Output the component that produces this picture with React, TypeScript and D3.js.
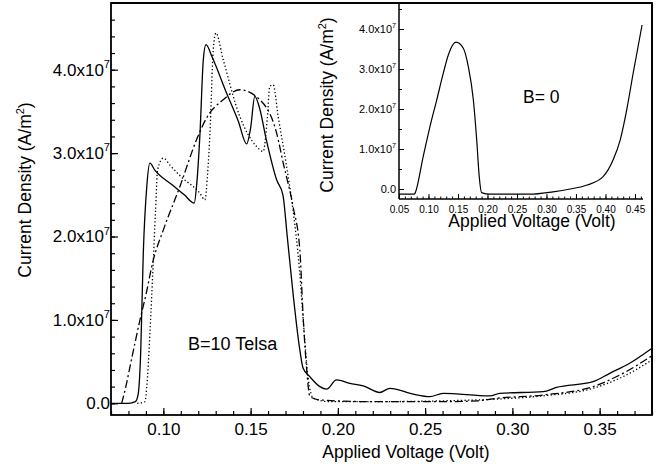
import { useEffect, useRef } from 'react'
import * as d3 from 'd3'

// main plot, B = 10 T (current density in units of 1e7 A/m^2)
const SOLID_V = [0.07, 0.08, 0.084, 0.0855, 0.087, 0.0885, 0.0905, 0.0923, 0.095, 0.105, 0.112, 0.1177, 0.119, 0.121, 0.1229, 0.1244, 0.128, 0.1362, 0.143, 0.1477, 0.15, 0.1524, 0.155, 0.159, 0.1649, 0.1685, 0.171, 0.1744, 0.1782, 0.1801, 0.1839, 0.1897, 0.1935, 0.1992, 0.2069, 0.2145, 0.224, 0.2298, 0.2431, 0.2527, 0.2603, 0.2871, 0.2928, 0.3176, 0.3252, 0.3462, 0.3558, 0.3672, 0.38]
const SOLID_J = [0, 0, 0.02, 0.1, 0.6, 1.8, 2.6, 2.88, 2.8, 2.62, 2.5, 2.4, 2.6, 3.24, 4.12, 4.3, 4.15, 3.72, 3.38, 3.11, 3.3, 3.68, 3.55, 3.16, 2.68, 2.5, 2.0, 1.3, 0.64, 0.42, 0.32, 0.2, 0.17, 0.28, 0.24, 0.21, 0.13, 0.18, 0.11, 0.08, 0.12, 0.09, 0.12, 0.14, 0.19, 0.26, 0.36, 0.48, 0.66]

const DOT_V = [0.085, 0.0895, 0.0905, 0.0923, 0.094, 0.0955, 0.0967, 0.1, 0.104, 0.11, 0.1209, 0.1238, 0.1255, 0.1267, 0.1286, 0.1301, 0.1343, 0.1438, 0.1534, 0.1572, 0.1595, 0.161, 0.1629, 0.1658, 0.1706, 0.1744, 0.178, 0.1805, 0.183, 0.186, 0.195, 0.22, 0.26, 0.29, 0.3176, 0.3462, 0.3634, 0.38]
const DOT_J = [0, 0.02, 0.2, 0.84, 1.6, 2.3, 2.8, 2.94, 2.85, 2.72, 2.52, 2.44, 2.8, 3.24, 4.24, 4.44, 4.12, 3.44, 3.08, 3.02, 3.4, 3.8, 3.82, 3.44, 2.84, 2.3, 1.6, 0.9, 0.3, 0.06, 0.02, 0.02, 0.03, 0.05, 0.09, 0.18, 0.32, 0.52]

const DASH_V = [0.0761, 0.0785, 0.0809, 0.0866, 0.09, 0.094, 0.1, 0.1095, 0.119, 0.1247, 0.1343, 0.1438, 0.1553, 0.1649, 0.1687, 0.1744, 0.1782, 0.1801, 0.182, 0.184, 0.19, 0.22, 0.26, 0.28, 0.291, 0.3176, 0.3462, 0.3634, 0.38]
const DASH_J = [0, 0.2, 0.44, 1.0, 1.3, 1.7, 2.08, 2.6, 3.16, 3.42, 3.64, 3.76, 3.64, 3.24, 2.88, 2.35, 1.84, 1.04, 0.44, 0.08, 0.04, 0.02, 0.02, 0.03, 0.06, 0.1, 0.2, 0.36, 0.57]

// inset, B = 0
const INSET_V = [0.05, 0.076, 0.077, 0.091, 0.1025, 0.114, 0.125, 0.1336, 0.1466, 0.159, 0.1675, 0.176, 0.1817, 0.186, 0.19, 0.204, 0.272, 0.311, 0.34, 0.369, 0.396, 0.413, 0.425, 0.436, 0.447, 0.462]
const INSET_J = [-0.13, -0.13, -0.11, 0.81, 1.56, 2.23, 2.89, 3.35, 3.67, 3.52, 3.06, 2.23, 1.23, 0.31, -0.09, -0.13, -0.13, -0.07, 0.0, 0.1, 0.31, 0.73, 1.23, 1.98, 2.9, 4.1]

const X_TICKS = [0.1, 0.15, 0.2, 0.25, 0.3, 0.35]
const Y_TICKS = [0, 1, 2, 3, 4]
const INSET_X_TICKS = [0.05, 0.1, 0.15, 0.2, 0.25, 0.3, 0.35, 0.4, 0.45]
const INSET_Y_TICKS = [0, 1, 2, 3, 4]

const FONT = '"Liberation Sans", Arial, Helvetica, sans-serif'

type Pt = [number, number]

function addPowLabel(g: any, xPos: number, yPos: number, v: number, size: number) {
  const t = g.append('text')
    .attr('x', xPos).attr('y', yPos)
    .attr('text-anchor', 'end')
    .attr('font-size', size)
    .attr('fill', '#000')
  if (v === 0) {
    t.append('tspan').attr('dy', '0.35em').text('0.0')
    return
  }
  t.append('tspan').attr('dy', '0.35em').text(`${v.toFixed(1)}x10`)
  t.append('tspan').attr('dy', -size * 0.45).attr('font-size', size * 0.65).text('7')
}

export default function App() {
  const svgRef = useRef<SVGSVGElement>(null)

  useEffect(() => {
    if (!svgRef.current) return
    const svg = d3.select(svgRef.current)
    svg.selectAll('*').remove()
    svg.attr('width', 672).attr('height', 472).attr('font-family', FONT)

    svg.append('rect').attr('width', 672).attr('height', 472).attr('fill', '#fff')

    // ---- main plot ----
    const x = d3.scaleLinear().domain([0.07, 0.38]).range([111, 652])
    const y = d3.scaleLinear().domain([-0.14, 4.8]).range([415, 3])

    const line = d3.line<Pt>()
      .x((d) => x(d[0]))
      .y((d) => y(d[1]))
      .curve(d3.curveMonotoneX)

    const series = [
      { v: DASH_V, j: DASH_J, dash: '8,3,2,3' },
      { v: DOT_V, j: DOT_J, dash: '1.3,2.3' },
      { v: SOLID_V, j: SOLID_J, dash: null },
    ]
    series.forEach((s) => {
      const pts = s.v.map((v, i) => [v, s.j[i]] as Pt)
      svg.append('path')
        .attr('d', line(pts))
        .attr('fill', 'none')
        .attr('stroke', '#000')
        .attr('stroke-width', 1.3)
        .attr('stroke-dasharray', s.dash)
    })

    // x axis ticks (inward)
    const xg = svg.append('g').attr('transform', 'translate(0,415)')
    xg.call(d3.axisBottom(x).tickValues(d3.range(0.07, 0.3801, 0.01)).tickSizeInner(-4).tickSizeOuter(0).tickFormat(() => ''))
    xg.select('.domain').remove()
    const xg2 = svg.append('g').attr('transform', 'translate(0,415)')
    xg2.call(d3.axisBottom(x).tickValues(X_TICKS).tickSizeInner(-7).tickSizeOuter(0).tickPadding(8).tickFormat(d3.format('.2f')))
    xg2.select('.domain').remove()
    xg2.selectAll('text').attr('font-size', 17).attr('font-family', FONT).attr('fill', '#000')
    svg.selectAll('.tick line').attr('stroke', '#000').attr('stroke-width', 1.2)

    // y axis ticks (inward)
    const yg = svg.append('g').attr('transform', 'translate(111,0)')
    yg.call(d3.axisLeft(y).tickValues(d3.range(0, 4.61, 0.2)).tickSizeInner(-4).tickSizeOuter(0).tickFormat(() => ''))
    yg.select('.domain').remove()
    const yg2 = svg.append('g').attr('transform', 'translate(111,0)')
    yg2.call(d3.axisLeft(y).tickValues(Y_TICKS).tickSizeInner(-7).tickSizeOuter(0).tickFormat(() => ''))
    yg2.select('.domain').remove()
    yg.selectAll('.tick line').attr('stroke', '#000').attr('stroke-width', 1.2)
    yg2.selectAll('.tick line').attr('stroke', '#000').attr('stroke-width', 1.2)

    Y_TICKS.forEach((v) => addPowLabel(svg, 110, y(v), v, 17))

    // frame
    svg.append('rect')
      .attr('x', 111).attr('y', 3)
      .attr('width', 652 - 111).attr('height', 415 - 3)
      .attr('fill', 'none').attr('stroke', '#000').attr('stroke-width', 1.8)

    // titles
    svg.append('text')
      .attr('x', 406).attr('y', 458)
      .attr('text-anchor', 'middle')
      .attr('font-size', 17.5)
      .text('Applied Voltage (Volt)')

    const yt = svg.append('text')
      .attr('transform', 'translate(31,190) rotate(-90)')
      .attr('text-anchor', 'middle')
      .attr('font-size', 17.5)
    yt.append('tspan').text('Current Density (A/m')
    yt.append('tspan').attr('dy', -7).attr('font-size', 11).text('2')
    yt.append('tspan').attr('dy', 7).text(')')

    svg.append('text')
      .attr('x', 188).attr('y', 350)
      .attr('font-size', 18)
      .text('B=10 Telsa')

    // ---- inset ----
    const xi = d3.scaleLinear().domain([0.05, 0.4636]).range([399, 643])
    const yi = d3.scaleLinear().domain([-0.25, 4.65]).range([199, 3])

    const ig = svg.append('g')
    ig.append('rect')
      .attr('x', 316).attr('y', 4)
      .attr('width', 651 - 316).attr('height', 236)
      .attr('fill', '#fff')

    const iline = d3.line<Pt>()
      .x((d) => xi(d[0]))
      .y((d) => yi(d[1]))
      .curve(d3.curveMonotoneX)
    ig.append('path')
      .attr('d', iline(INSET_V.map((v, i) => [v, INSET_J[i]] as Pt)))
      .attr('fill', 'none')
      .attr('stroke', '#000')
      .attr('stroke-width', 1.2)

    const ixg = ig.append('g').attr('transform', 'translate(0,199)')
    ixg.call(d3.axisBottom(xi).tickValues(d3.range(0.05, 0.4601, 0.01)).tickSizeInner(-2.5).tickSizeOuter(0).tickFormat(() => ''))
    const ixg2 = ig.append('g').attr('transform', 'translate(0,199)')
    ixg2.call(d3.axisBottom(xi).tickValues(INSET_X_TICKS).tickSizeInner(-5).tickSizeOuter(0).tickPadding(6.5).tickFormat(d3.format('.2f')))
    ixg2.selectAll('text').attr('font-size', 10).attr('font-family', FONT).attr('fill', '#000')

    const iyg = ig.append('g').attr('transform', 'translate(399,0)')
    iyg.call(d3.axisLeft(yi).tickValues(d3.range(0, 4.51, 0.5)).tickSizeInner(-3).tickSizeOuter(0).tickFormat(() => ''))
    const iyg2 = ig.append('g').attr('transform', 'translate(399,0)')
    iyg2.call(d3.axisLeft(yi).tickValues(INSET_Y_TICKS).tickSizeInner(-5).tickSizeOuter(0).tickFormat(() => ''))
    ;[ixg, ixg2, iyg, iyg2].forEach((g) => {
      g.select('.domain').remove()
      g.selectAll('.tick line').attr('stroke', '#000').attr('stroke-width', 1)
    })

    ig.append('line')
      .attr('x1', 399).attr('x2', 399).attr('y1', 3).attr('y2', 199)
      .attr('stroke', '#000').attr('stroke-width', 1.5)
    ig.append('line')
      .attr('x1', 399).attr('x2', 643).attr('y1', 199).attr('y2', 199)
      .attr('stroke', '#000').attr('stroke-width', 1.5)

    INSET_Y_TICKS.forEach((v) => addPowLabel(ig, 396, yi(v), v, 11))

    ig.append('text')
      .attr('x', 532).attr('y', 227)
      .attr('text-anchor', 'middle')
      .attr('font-size', 17.5)
      .text('Applied Voltage (Volt)')

    const iyt = ig.append('text')
      .attr('transform', 'translate(333,105) rotate(-90)')
      .attr('text-anchor', 'middle')
      .attr('font-size', 17.5)
    iyt.append('tspan').text('Current Density (A/m')
    iyt.append('tspan').attr('dy', -7).attr('font-size', 11).text('2')
    iyt.append('tspan').attr('dy', 7).text(')')

    ig.append('text')
      .attr('x', 523).attr('y', 103)
      .attr('font-size', 17.5)
      .text('B= 0')

    // redraw main frame right/top edge over inset background
    svg.append('line')
      .attr('x1', 652).attr('x2', 652).attr('y1', 3).attr('y2', 415)
      .attr('stroke', '#000').attr('stroke-width', 1.8)
    svg.append('line')
      .attr('x1', 111).attr('x2', 652).attr('y1', 3).attr('y2', 3)
      .attr('stroke', '#000').attr('stroke-width', 1.8)
  }, [])

  return <svg ref={svgRef} style={{ position: 'absolute', left: 0, top: 0, display: 'block' }} />
}
